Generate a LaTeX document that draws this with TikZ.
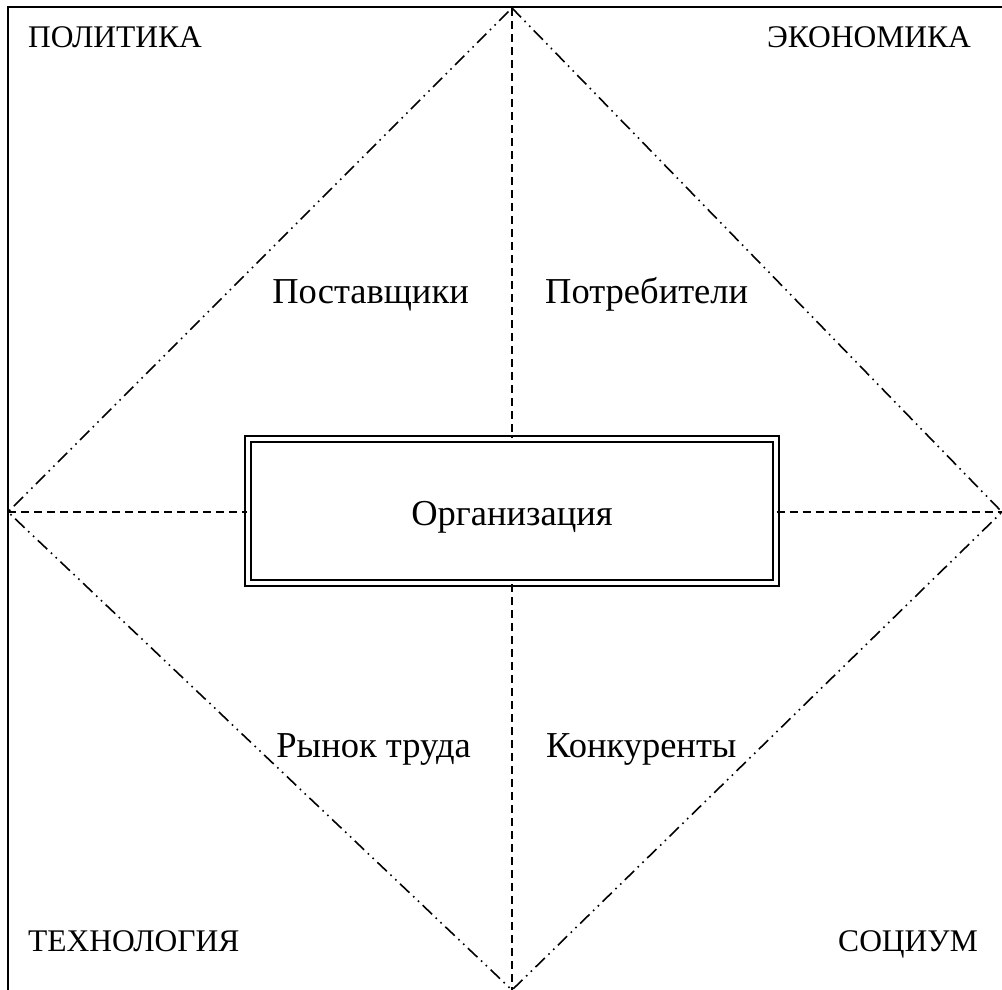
\documentclass[tikz,border=0pt]{standalone}
\usepackage{fontspec}
\setmainfont{Liberation Serif}
\begin{document}
\begin{tikzpicture}[x=1pt,y=-1pt,
  frame/.style={line width=2pt},
  rim/.style={line width=1.6pt,dash pattern=on 13pt off 5pt on 1.6pt off 5pt on 1.6pt off 5pt},
  axis/.style={line width=1.6pt,dash pattern=on 8pt off 5pt},
  orgbox/.style={draw,double,line width=2pt,double distance=4pt,inner sep=0pt,
    minimum width=528pt,minimum height=144pt},
  corner/.style={inner sep=0pt,font=\fontsize{31.5}{38}\selectfont},
  lbl/.style={inner sep=0pt,font=\fontsize{36.5}{44}\selectfont}]
\useasboundingbox (0,0) rectangle (1002,989);

% outer frame (top and left edges)
\coordinate (ftl) at (8,7);
\coordinate (ftr) at (1003,7);
\coordinate (fbl) at (8,990);
\draw[frame] (ftr) -- (ftl) -- (fbl);

% diamond vertices
\coordinate (dt) at (512,8);
\coordinate (dl) at (8,512);
\coordinate (dr) at (1002,512);
\coordinate (db) at (512,990);
\draw[rim] (dt) -- (dr) -- (db) -- (dl) -- cycle;

% central box
\node[orgbox] (org) at (511.5,511) {};
\node[lbl,anchor=base] (orgtxt) at (512,525) {Организация};

% axes from the vertices to the box
\draw[axis] (dt) -- (org.north -| dt);
\draw[axis] (org.south -| db) -- (db);
\draw[axis] (dl) -- (org.west |- dl);
\draw[axis] (org.east |- dr) -- (dr);

% corner labels
\node[corner,anchor=base west] (pol) at (28,47) {ПОЛИТИКА};
\node[corner,anchor=base east] (eco) at (971,47) {ЭКОНОМИКА};
\node[corner,anchor=base west] (tech) at (28,951) {ТЕХНОЛОГИЯ};
\node[corner,anchor=base east] (soc) at (978,951) {СОЦИУМ};

% market participants
\node[lbl,anchor=base east] (sup) at (469,303) {Поставщики};
\node[lbl,anchor=base west] (cons) at (545,303) {Потребители};
\node[lbl,anchor=base east] (lab) at (471,757) {Рынок труда};
\node[lbl,anchor=base west] (comp) at (546,757) {Конкуренты};
\end{tikzpicture}
\end{document}
